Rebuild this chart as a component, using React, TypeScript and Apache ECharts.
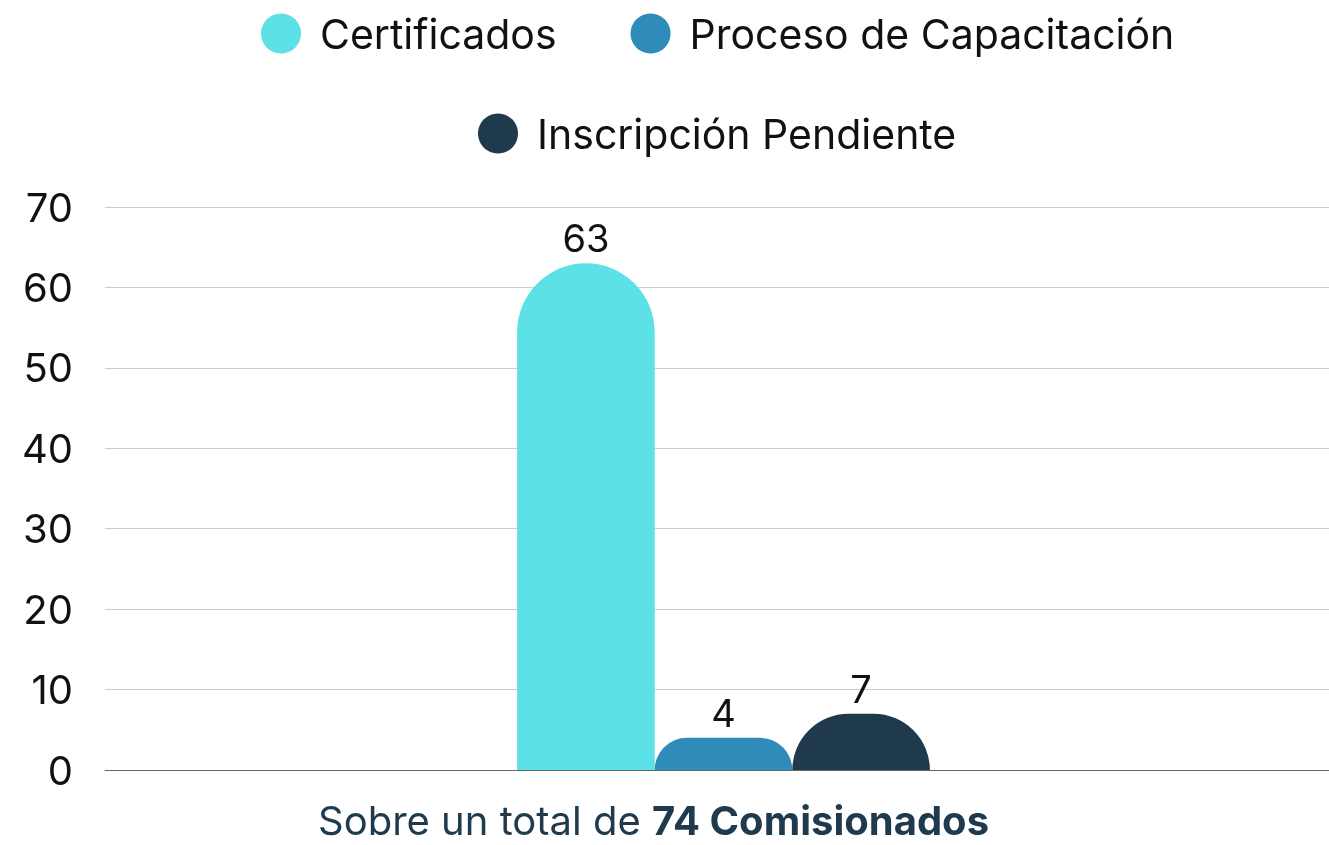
import React, { useEffect, useRef } from "react";
import * as echarts from "echarts";

const categories = ["Comisionados"];
const seriesNames = ["Certificados", "Proceso de Capacitación", "Inscripción Pendiente"];
const seriesValues = [[63], [4], [7]];
const seriesColors = ["#5CE1E6", "#2E8BBA", "#1F3A4D"];
const yTicks = { min: 0, max: 70, interval: 10 };
const footerNormal = "Sobre un total de ";
const footerBold = "74 Comisionados";

const FONT = "Inter";

export default function App() {
  const ref = useRef<HTMLDivElement>(null);
  useEffect(() => {
    if (!ref.current) return;
    const chart = echarts.init(ref.current, null, { renderer: "svg" });
    const legendText = { fontFamily: FONT, fontSize: 41, color: "#111", padding: [0, 0, 0, 14] };
    chart.setOption({
      animation: false,
      legend: [
        {
          data: seriesNames.slice(0, 2),
          left: 256,
          top: 8,
          icon: "circle",
          itemWidth: 40,
          itemHeight: 40,
          itemGap: 74,
          textStyle: legendText,
        },
        {
          data: seriesNames.slice(2),
          left: 473,
          top: 108,
          icon: "circle",
          itemWidth: 40,
          itemHeight: 40,
          textStyle: legendText,
        },
      ],
      title: {
        text: `{n|${footerNormal}}{b|${footerBold}}`,
        left: 318,
        top: 800,
        padding: 0,
        textStyle: {
          rich: {
            n: { fontFamily: FONT, fontSize: 40, lineHeight: 40, color: "#1F3A4D", fontWeight: "normal" },
            b: { fontFamily: FONT, fontSize: 40, lineHeight: 40, color: "#1F3A4D", fontWeight: "bold" },
          },
        },
      },
      grid: { left: 105, right: 0, top: 207, bottom: 75, containLabel: false },
      xAxis: {
        type: "category",
        data: categories,
        axisLine: { lineStyle: { color: "#666", width: 1 } },
        axisTick: { show: false },
        axisLabel: { show: false },
      },
      yAxis: {
        type: "value",
        min: yTicks.min,
        max: yTicks.max,
        interval: yTicks.interval,
        axisLine: { show: false },
        axisTick: { show: false },
        splitLine: { lineStyle: { color: "#ccc", width: 1 } },
        axisLabel: { fontFamily: FONT, fontSize: 40, color: "#111", margin: 32 },
      },
      series: seriesNames.map((name, i) => ({
        name,
        type: "bar",
        data: seriesValues[i],
        barWidth: 137.6,
        barGap: "0%",
        itemStyle: { color: seriesColors[i], borderRadius: [69, 69, 0, 0] },
        label: {
          show: true,
          position: "top",
          distance: 6,
          fontFamily: FONT,
          fontSize: 38,
          color: "#111",
        },
      })),
    });
    return () => chart.dispose();
  }, []);
  return (
    <div
      ref={ref}
      style={{ position: "fixed", left: 0, top: 0, width: 1342, height: 845 }}
    />
  );
}
